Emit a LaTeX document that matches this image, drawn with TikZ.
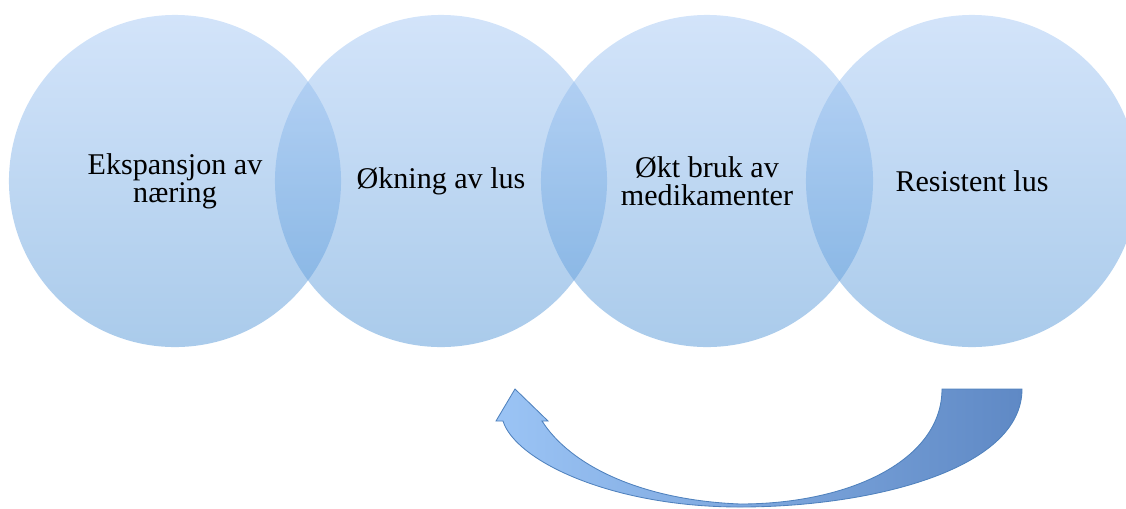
\documentclass[tikz,border=0pt]{standalone}
\usepackage{fontspec}
\setmainfont{Liberation Serif}
\definecolor{circtop}{RGB}{167,201,245}
\definecolor{circbot}{RGB}{85,151,215}
\definecolor{arrowleft}{RGB}{155,196,245}
\definecolor{arrowright}{RGB}{95,137,197}
\definecolor{arrowline}{RGB}{79,129,189}

\begin{document}
\begin{tikzpicture}[x=0.025cm,y=-0.025cm,
    stage/.style={circle,minimum size=8.3cm,inner sep=0pt,
      top color=circtop,bottom color=circbot,fill opacity=0.5,
      text opacity=1,align=center,font=\fontsize{21.4}{19.8}\selectfont},
    loop/.style={draw=arrowline,line width=0.6pt,left color=arrowleft,
      right color=arrowright}]
      \useasboundingbox (0,0) rectangle (1126,508);

      \node[stage] (s1) at (175,181) {Ekspansjon av\\næring};
      \node[stage] (s2) at (441,181) {Økning av lus};
      \node[stage] (s3) at (707,181) {Økt bruk av\\medikamenter};
      \node[stage] (s4) at (972,181) {Resistent lus};

      % curved arrow back from s4 to s2
      \coordinate (tip) at (515,389);
      \coordinate (hl) at (496,421);
      \coordinate (hr) at (548,421);
      \coordinate (ol) at (503,421);
      \coordinate (il) at (542,421);
      \coordinate (ib) at (740,504);
      \coordinate (ob) at (740,507);
      \coordinate (ti) at (942,389);
      \coordinate (to) at (1022,389);

      \path[loop] (ol) -- (hl) -- (tip) -- (hr) -- (il)
        .. controls (570,465) and (640,500) .. (ib)
        .. controls (850,504) and (942,460) .. (ti) -- (to)
        .. controls (1022,470) and (870,507) .. (ob)
        .. controls (610,507) and (515,460) .. (ol) -- cycle;
    \end{tikzpicture}
\end{document}
